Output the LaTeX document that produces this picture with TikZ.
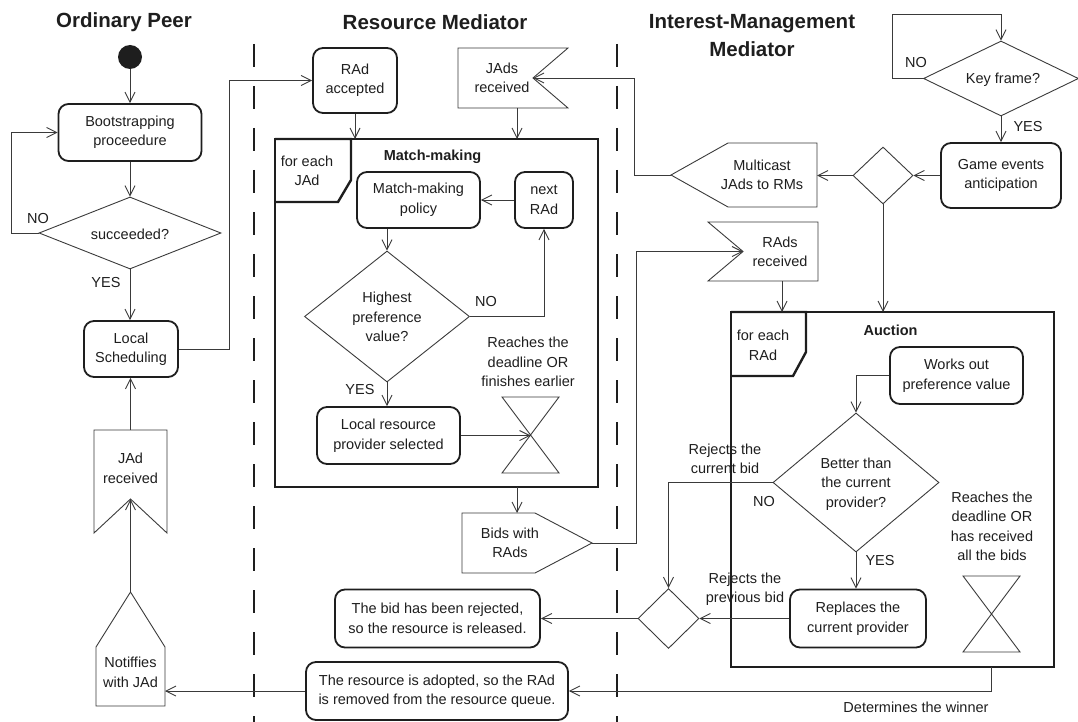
\documentclass[tikz,border=0pt]{standalone}
\usepackage{fontspec}
\setmainfont{Liberation Sans}
\usetikzlibrary{arrows.meta,shapes.geometric}
\definecolor{ink}{HTML}{1E1E1E}
\definecolor{linegray}{HTML}{3A3A3A}
\tikzset{
  txt/.style={font=\fontsize{14.5}{19.5}\selectfont, text=ink, align=center, inner sep=0pt},
  boldtxt/.style={txt, font=\fontsize{14.5}{19.5}\selectfont\bfseries},
  lanehead/.style={font=\fontsize{20.5}{28}\selectfont\bfseries, text=ink, align=center, inner sep=0pt},
  actbox/.style={txt, draw=ink, line width=1.8pt, rounded corners=10pt},
  decision/.style={diamond, draw=linegray, line width=0.9pt, inner sep=0pt},
  conn/.style={draw=linegray, line width=0.9pt, -{Straight Barb[length=10pt,width=10pt]}},
  sig/.style={draw=linegray, line width=0.9pt, line join=miter},
  framebox/.style={draw=ink, line width=2pt, inner sep=0pt, outer sep=0pt},
  tabline/.style={draw=ink, line width=2.4pt},
  timer/.style={inner sep=0pt, outer sep=0pt, minimum width=57pt, minimum height=76pt},
  lane/.style={draw=ink, line width=2pt, dash pattern=on 23pt off 19pt},
}
\begin{document}
\begin{tikzpicture}[x=1pt,y=-1pt]
\useasboundingbox (0,0) rectangle (1078,722);

% ---------- lane headers and separators ----------
\node[lanehead] (hOP) at (124,22) {Ordinary Peer};
\node[lanehead] (hRM) at (435,22) {Resource Mediator};
\node[lanehead] (hIM) at (752,36) {Interest-Management\\Mediator};

\coordinate (laneAtop) at (254,44);
\coordinate (laneAbot) at (254,722);
\coordinate (laneBtop) at (617,44);
\coordinate (laneBbot) at (617,722);
\draw[lane] (laneAtop) -- (laneAbot);
\draw[lane] (laneBtop) -- (laneBbot);

% ---------- frames ----------
\node[framebox, minimum width=323pt, minimum height=348pt] (mm) at (436.5,313) {};
\draw[tabline] (mm.north west) -- ++(76,0) -- ++(0,41) -- ++(-13,22) -- ++(-63,0);
\node[txt] (mmTab) at (307,171) {for each\\JAd};
\node[boldtxt] (mmTitle) at (432.5,157) {Match-making};

\node[framebox, minimum width=323pt, minimum height=355pt] (auc) at (892.5,489.5) {};
\draw[tabline] (auc.north west) -- ++(75,0) -- ++(0,40) -- ++(-13,24) -- ++(-62,0);
\node[txt] (aucTab) at (763,345.5) {for each\\RAd};
\node[boldtxt] (aucTitle) at (890.5,330) {Auction};

% ---------- Ordinary Peer ----------
\node[circle, fill=ink, minimum size=24pt, inner sep=0pt] (start) at (130,57) {};
\node[actbox, minimum width=143pt, minimum height=57pt] (boot) at (130,132.5) {Bootstrapping\\proceedure};
\node[decision, minimum width=182pt, minimum height=72pt] (succ) at (130,233) {};
\node[txt] (succT) at (130,234) {succeeded?};
\node[actbox, minimum width=94pt, minimum height=56pt] (local) at (131,349) {Local\\Scheduling};
\node[txt] (succNo) at (38,219) {NO};
\node[txt] (succYes) at (106,283) {YES};

\coordinate (jadrTop) at (130.5,430);
\coordinate (jadrNotch) at (130.5,499);
\draw[sig] (94,430) -- (167,430) -- (167,533) -- (jadrNotch) -- (94,533) -- cycle;
\node[txt] (jadr) at (130.5,468.5) {JAd\\received};

\coordinate (notifTip) at (130.5,592);
\coordinate (notifE) at (165,691);
\draw[sig] (96,706) -- (96,647) -- (notifTip) -- (165,647) -- (165,706) -- cycle;
\node[txt] (notif) at (130.5,672.5) {Notiffies\\with JAd};

\draw[conn] (start) -- (boot.north);
\draw[conn] (boot.south) -- (succ.north);
\draw[conn] (succ.west) -- ++(-27,0) |- (boot.west);
\draw[conn] (succ.south) -- (succ.south |- local.north);
\draw[conn] (jadrTop) -- (jadrTop |- local.south);
\draw[conn] (notifTip) -- (jadrNotch);

% ---------- Resource Mediator ----------
\node[actbox, minimum width=84pt, minimum height=65pt] (ra) at (355,80.5) {RAd\\accepted};
\coordinate (jadsNotch) at (533,78);
\coordinate (jadsBot) at (517,108);
\draw[sig] (458,48) -- (568,48) -- (jadsNotch) -- (568,108) -- (458,108) -- cycle;
\node[txt] (jads) at (502,78) {JAds\\received};

\node[actbox, minimum width=123pt, minimum height=56pt] (policy) at (418.5,200) {Match-making\\policy};
\node[actbox, minimum width=58pt, minimum height=56pt] (nextrad) at (544,200) {next\\RAd};
\node[decision, minimum width=165pt, minimum height=131pt] (hp) at (387,316.5) {};
\node[txt] (hpT) at (387,317) {Highest\\preference\\value?};
\node[actbox, minimum width=143pt, minimum height=57pt] (lrp) at (388.5,435.5) {Local resource\\provider selected};
\node[timer] (hg1) at (530.5,435) {};
\draw[sig] (hg1.north west) -- (hg1.north east) -- (hg1.south west) -- (hg1.south east) -- cycle;
\node[txt] (dl1) at (528,362) {Reaches the\\deadline OR\\finishes earlier};
\node[txt] (hpNo) at (486,302) {NO};
\node[txt] (hpYes) at (360,390) {YES};

\coordinate (bidsTop) at (517,513);
\coordinate (bidsTip) at (592,543);
\draw[sig] (462,513) -- (535,513) -- (bidsTip) -- (535,573) -- (462,573) -- cycle;
\node[txt] (bids) at (510,543) {Bids with\\RAds};

\draw[conn] (local.east) -- ++(51,0) |- (ra.west);
\draw[conn] (ra.south) -- (ra.south |- mm.north);
\draw[conn] (jadsBot) -- (jadsBot |- mm.north);
\draw[conn] (nextrad.west) -- (policy.east);
\draw[conn] (hp.north |- policy.south) -- (hp.north);
\draw[conn] (hp.east) -| (nextrad.south);
\draw[conn] (hp.south) -- (hp.south |- lrp.north);
\draw[conn] (lrp.east) -- (lrp.east -| hg1);
\draw[conn] (bidsTop |- mm.south) -- (bidsTop);

% ---------- Interest-Management Mediator ----------
\node[decision, minimum width=155pt, minimum height=75pt] (kf) at (1001,78.5) {};
\node[txt] (kfT) at (1003,80) {Key frame?};
\coordinate (kfLoop) at (1001,14);
\node[txt] (kfNo) at (916,63) {NO};
\node[txt] (kfYes) at (1028,127) {YES};
\node[actbox, minimum width=120pt, minimum height=65pt] (ge) at (1001,175.5) {Game events\\anticipation};
\node[decision, minimum width=60pt, minimum height=57pt] (fork) at (883,175.5) {};

\coordinate (mcTip) at (671,175);
\coordinate (mcE) at (817,175.5);
\draw[sig] (mcTip) -- (728,143) -- (817,143) -- (817,207) -- (728,207) -- cycle;
\node[txt] (mc) at (762,175) {Multicast\\JAds to RMs};

\coordinate (radsNotch) at (743,251.5);
\coordinate (radsBot) at (782,281);
\draw[sig] (708,222) -- (818,222) -- (818,281) -- (708,281) -- (radsNotch) -- cycle;
\node[txt] (rads) at (780,252) {RAds\\received};

\node[actbox, minimum width=133pt, minimum height=57pt] (wo) at (956.5,375.5) {Works out\\preference value};
\node[decision, minimum width=166pt, minimum height=139pt] (bt) at (856,482.5) {};
\node[txt] (btT) at (856,484) {Better than\\the current\\provider?};
\node[actbox, minimum width=136pt, minimum height=58pt] (rp) at (858,618.5) {Replaces the\\current provider};
\node[timer] (hg2) at (991.5,614) {};
\draw[sig] (hg2.north west) -- (hg2.north east) -- (hg2.south west) -- (hg2.south east) -- cycle;
\node[txt] (dl2) at (992,526.5) {Reaches the\\deadline OR\\has received\\all the bids};
\node[txt] (btNo) at (764,502) {NO};
\node[txt] (btYes) at (880,561) {YES};
\node[txt] (rejCur) at (725,459) {Rejects the\\current bid};
\node[txt] (rejPrev) at (745,589) {Rejects the\\previous bid};

\node[decision, minimum width=61pt, minimum height=60pt] (md) at (668.5,618.5) {};
\node[actbox, minimum width=205pt, minimum height=58pt] (rej) at (437.5,618.5) {The bid has been rejected,\\so the resource is released.};
\node[actbox, minimum width=262pt, minimum height=58pt] (adopt) at (437,691) {The resource is adopted, so the RAd\\is removed from the resource queue.};
\node[txt] (winner) at (916,707) {Determines the winner};

\draw[conn] (kf.west) -- ++(-31,0) |- (kfLoop) -- (kf.north);
\draw[conn] (kf.south) -- (ge.north);
\draw[conn] (ge.west) -- (fork.east);
\draw[conn] (fork.west) -- (mcE);
\draw[conn] (mcTip) -- ++(-37,0) |- (jadsNotch);
\draw[conn] (bidsTip) -- ++(44,0) |- (radsNotch);
\draw[conn] (radsBot) -- (radsBot |- auc.north);
\draw[conn] (fork.south) -- (fork.south |- auc.north);
\draw[conn] (wo.west) -| (bt.north);
\draw[conn] (bt.south) -- (bt.south |- rp.north);
\draw[conn] (bt.west) -| (md.north);
\draw[conn] (rp.west) -- (md.east);
\draw[conn] (md.west) -- (rej.east);
\draw[conn] (hg2 |- auc.south) -- (hg2 |- adopt.east) -- (adopt.east);
\draw[conn] (adopt.west) -- (notifE);
\end{tikzpicture}
\end{document}
